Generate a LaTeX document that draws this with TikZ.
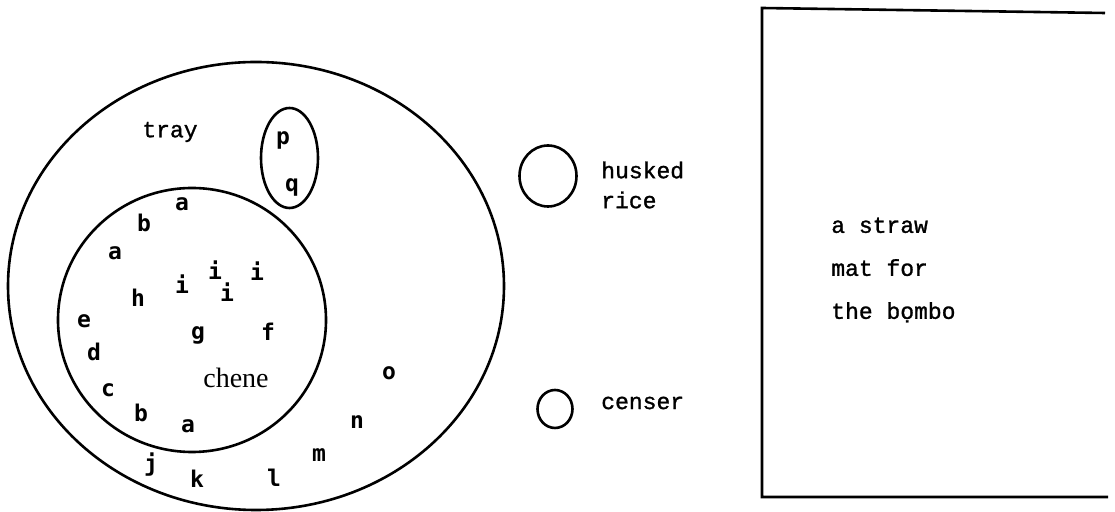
\documentclass[tikz,border=0pt]{standalone}
\usepackage{fontspec}
\setmonofont[FakeBold=1.2]{Liberation Mono}
\newfontfamily\letterfont{DejaVu Sans Mono}
\newfontfamily\chenefont{Liberation Serif}
\usepackage{tikz}
\usetikzlibrary{shapes.geometric}

\begin{document}
\begin{tikzpicture}[
  x=0.5pt, y=-0.5pt,
  line width=1.3pt,
  ring/.style={
    draw,
    ellipse,
    inner sep=0pt
  },
  label/.style={
    font=\ttfamily\fontsize{11.5}{15}\selectfont,
    align=left,
    inner sep=0pt
  },
  ltr/.style={
    font=\letterfont\bfseries\fontsize{11.5}{12}\selectfont,
    inner sep=0pt
  }
]
  \useasboundingbox (0,0) rectangle (1115,512);

  % Tray and chene
  \node[ring, minimum width=248pt, minimum height=224pt] (tray) at (256,286) {};
  \node[ring, minimum width=134pt, minimum height=132pt] (chene) at (192,320) {};
  \node[ring, minimum width=28.5pt, minimum height=50pt] (pq) at (289.5,158) {};

  \node[label] (traytxt) at (170,132) {tray};
  \node[font=\chenefont\fontsize{14}{16}\selectfont, inner sep=0pt] (chenetxt) at (236,378) {chene};

  % Letters inside the chene
  \node[ltr] (a1) at (182,204) {a};
  \node[ltr] (b1) at (144,223) {b};
  \node[ltr] (a2) at (115,253) {a};
  \node[ltr] (h) at (138,298) {h};
  \node[ltr] (e) at (84,321) {e};
  \node[ltr] (d) at (94,352) {d};
  \node[ltr] (c) at (108,390) {c};
  \node[ltr] (b2) at (141,413) {b};
  \node[ltr] (a3) at (188,426) {a};
  \node[ltr] (i1) at (182,284) {i};
  \node[ltr] (i2) at (215,270) {i};
  \node[ltr] (i3) at (227,292) {i};
  \node[ltr] (i4) at (257,271) {i};
  \node[ltr] (g) at (198,335) {g};
  \node[ltr] (f) at (268,332) {f};

  % Letters on the tray
  \node[ltr] (p) at (283,140) {p};
  \node[ltr] (q) at (292,187) {q};
  \node[ltr] (j) at (151,465) {j};
  \node[ltr] (k) at (197,479) {k};
  \node[ltr] (l) at (274,478) {l};
  \node[ltr] (m) at (319,455) {m};
  \node[ltr] (n) at (357,422) {n};
  \node[ltr] (o) at (389,373) {o};

  % Rice and censer
  \node[ring, minimum width=28.5pt, minimum height=30.5pt] (rice) at (548,176) {};
  \node[label, anchor=west] (ricetxt) at (600,185) {husked\\rice};
  \node[ring, minimum width=17.5pt, minimum height=19pt] (censer) at (555,409) {};
  \node[label, anchor=west] (censertxt) at (600,403) {censer};

  % Straw mat
  \draw (1105,13) -- (762,8) -- (762,497) -- (1108,497);
  \node[label, anchor=west, font=\ttfamily\fontsize{11.5}{21.5}\selectfont]
    (mat) at (830,270) {a straw\\mat for\\the bọmbo};
\end{tikzpicture}
\end{document}
